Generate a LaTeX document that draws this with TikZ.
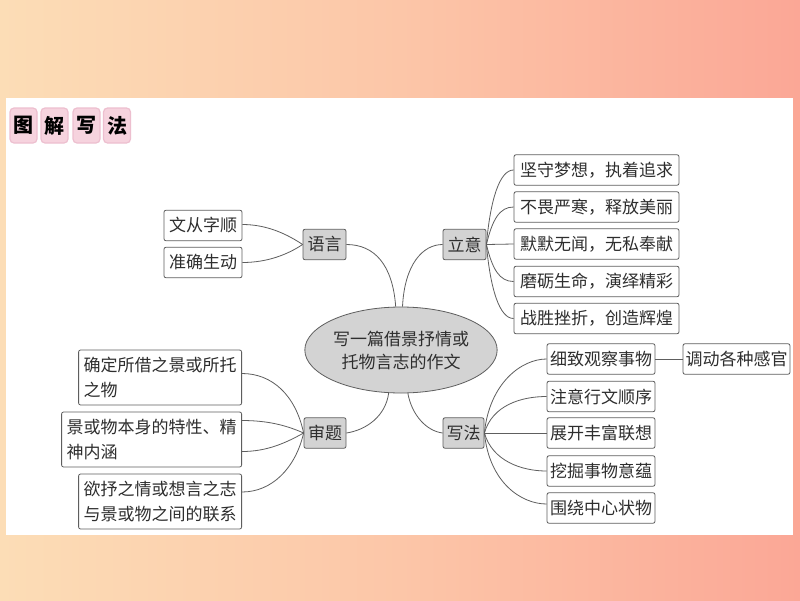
\documentclass[tikz,border=0pt]{standalone}
\usepackage{fontspec}
\setmainfont{Noto Sans CJK SC}
\newfontfamily\cjk{Noto Sans CJK SC}
\usetikzlibrary{shapes.geometric}
\definecolor{bgL}{HTML}{FCDDB6}
\definecolor{bgM}{HTML}{FCC6A8}
\definecolor{bgR}{HTML}{FBA796}
\definecolor{edgec}{HTML}{5E5E5E}
\definecolor{txt}{HTML}{2E2E2E}
\definecolor{topicfill}{HTML}{D3D3D3}
\definecolor{tile}{HTML}{F6D3DE}
\definecolor{tileedge}{HTML}{EDBFCF}
\begin{document}
\begin{tikzpicture}[x=1pt,y=-1pt,
  every node/.style={text=txt,font=\cjk\fontsize{17}{23}\selectfont},
  box/.style={draw=edgec,line width=0.8pt,rounded corners=2pt,fill=white,inner sep=0pt,minimum height=30.5pt,align=center},
  topic/.style={box,fill=topicfill},
  multi/.style={box,align=left,inner xsep=5pt,minimum height=55pt,anchor=east,font=\cjk\fontsize{17}{24.5}\selectfont},
  link/.style={draw=edgec,line width=0.8pt},
  tilebox/.style={fill=tile,draw=tileedge,line width=1.2pt,rounded corners=4pt,minimum width=27pt,minimum height=35pt,inner sep=0pt,text=black,font=\cjk\bfseries\fontsize{20}{20}\selectfont}]
\useasboundingbox (0,0) rectangle (800,600);
\shade[left color=bgL,right color=bgR,middle color=bgM] (0,0) rectangle (800,600);
\fill[white] (6,98) rectangle (793,535);
% title tiles
\node[tilebox] (t1) at (23.5,125.5) {图};
\node[tilebox] (t2) at (54.5,125.5) {解};
\node[tilebox] (t3) at (86.5,125.5) {写};
\node[tilebox] (t4) at (117,125.5) {法};
% centre
\node[ellipse,draw=edgec,line width=0.8pt,fill=topicfill,minimum width=180pt,minimum height=86pt,inner sep=0pt,align=center] (c) at (401,350) {写一篇借景抒情或\\托物言志的作文};
% topics
\node[topic,minimum width=43pt] (yy) at (324.5,244.5) {语言};
\node[topic,minimum width=43pt] (ly) at (464.5,244.5) {立意};
\node[topic,minimum width=42pt] (st) at (325,433) {审题};
\node[topic,minimum width=41pt] (xf) at (463.5,433) {写法};
% language leaves
\node[box,minimum width=78pt] (a1) at (203,225.5) {文从字顺};
\node[box,minimum width=78pt] (a2) at (203,262.5) {准确生动};
% intent leaves
\node[box,minimum width=165pt] (r1) at (596.5,170) {坚守梦想，执着追求};
\node[box,minimum width=165pt] (r2) at (596.5,207) {不畏严寒，释放美丽};
\node[box,minimum width=165pt] (r3) at (596.5,244) {默默无闻，无私奉献};
\node[box,minimum width=165pt] (r4) at (596.5,281.5) {磨砺生命，演绎精彩};
\node[box,minimum width=165pt] (r5) at (596.5,318.5) {战胜挫折，创造辉煌};
% method leaves
\node[box,minimum width=108pt] (w1) at (601,359) {细致观察事物};
\node[box,minimum width=108pt] (w2) at (601,396.5) {注意行文顺序};
\node[box,minimum width=108pt] (w3) at (601,433) {展开丰富联想};
\node[box,minimum width=108pt] (w4) at (601,471) {挖掘事物意蕴};
\node[box,minimum width=108pt] (w5) at (601,508) {围绕中心状物};
\node[box,minimum width=107pt] (v1) at (736.5,359) {调动各种感官};
% topic-reading leaves
\node[multi] (m1) at (242,377.5) {确定所借之景或所托\\之物};
\node[multi] (m2) at (242,439.5) {景或物本身的特性、精\\神内涵};
\node[multi] (m3) at (242,501.5) {欲抒之情或想言之志\\与景或物之间的联系};
% connectors centre
\draw[link] (c.97) .. controls +(-3,-42) and +(28,0) .. (yy.east);
\draw[link] (c.88) .. controls +(2,-42) and +(-20,0) .. (ly.west);
\draw[link] (c.254) .. controls +(-3,23) and +(20,-3) .. (st.east);
\draw[link] (c.279) .. controls +(4,22) and +(-16,-2) .. (xf.west);
% language
\draw[link] (yy.west) .. controls +(-15,-10) and +(25,0) .. ([yshift=1pt]a1.east);
\draw[link] (yy.west) .. controls +(-15,10) and +(25,0) .. (a2.east);
% intent
\draw[link] (ly.east) .. controls +(4,-45) and +(-14,0) .. (r1.west);
\draw[link] (ly.east) .. controls +(6,-25) and +(-14,0) .. (r2.west);
\draw[link] (ly.east) -- (r3.west);
\draw[link] (ly.east) .. controls +(6,25) and +(-14,0) .. (r4.west);
\draw[link] (ly.east) .. controls +(4,45) and +(-14,0) .. (r5.west);
% method
\draw[link] (xf.east) .. controls +(5,-50) and +(-25,0) .. (w1.west);
\draw[link] (xf.east) .. controls +(8,-28) and +(-25,0) .. (w2.west);
\draw[link] (xf.east) -- (w3.west);
\draw[link] (xf.east) .. controls +(8,28) and +(-25,0) .. (w4.west);
\draw[link] (xf.east) .. controls +(5,50) and +(-25,0) .. ([yshift=4pt]w5.west);
\draw[link] (w1.east) -- (v1.west);
% topic reading
\draw[link] (st.west) .. controls +(-8,-38) and +(30,0) .. ([yshift=4pt]m1.east);
\draw[link] (st.west) .. controls +(-18,-8) and +(25,0) .. ([yshift=19pt]m2.east);
\draw[link] (st.west) .. controls +(-18,10) and +(25,0) .. ([yshift=-12pt]m2.east);
\draw[link] (st.west) .. controls +(-8,35) and +(30,0) .. ([yshift=9.5pt]m3.east);
\end{tikzpicture}
\end{document}
